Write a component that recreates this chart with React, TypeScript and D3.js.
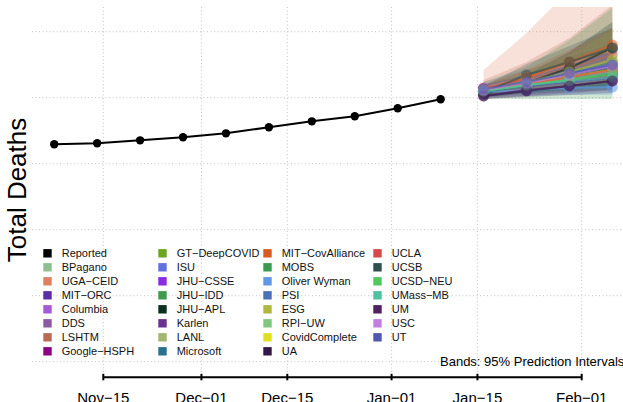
import React from 'react';
import * as d3 from 'd3';

const reportedDates = ['2020-11-07', '2020-11-14', '2020-11-21', '2020-11-28', '2020-12-05', '2020-12-12', '2020-12-19', '2020-12-26', '2021-01-02', '2021-01-09'];
const reportedValues = [16470, 16550, 16770, 17000, 17300, 17760, 18210, 18590, 19200, 19880];

const forecastDates = ['2021-01-16', '2021-01-23', '2021-01-30', '2021-02-06'];

const models = ['BPagano', 'UGA−CEID', 'MIT−ORC', 'Columbia', 'DDS', 'LSHTM', 'Google−HSPH',
  'GT−DeepCOVID', 'ISU', 'JHU−CSSE', 'JHU−IDD', 'JHU−APL', 'Karlen', 'LANL', 'Microsoft',
  'MIT−CovAlliance', 'MOBS', 'Oliver Wyman', 'PSI', 'ESG', 'RPI−UW', 'CovidComplete', 'UA',
  'UCLA', 'UCSB', 'UCSD−NEU', 'UMass−MB', 'UM', 'USC', 'UT'];

const modelColors = ['#8fbf8f', '#e08060', '#5a2ea0', '#a65ad8', '#8c5aa0', '#b86a55', '#8b0080',
  '#6aa51e', '#6070e0', '#8a2be2', '#3f9a50', '#0a3020', '#6a3090', '#a0b870', '#2a7090',
  '#d85a20', '#3a9a50', '#6098e8', '#4a70b8', '#b0b840', '#80c880', '#e0e020', '#301848',
  '#d84848', '#305050', '#50c860', '#50c0a0', '#502060', '#c080e0', '#5058b0'];

const medians = [
  [20580, 21040, 21490, 21950], [20740, 21570, 22550, 23610], [20660, 21190, 21720, 22250],
  [20740, 21340, 21950, 22550], [20580, 21040, 21490, 22020], [20660, 21340, 22250, 23240],
  [20510, 20890, 21270, 21640], [20580, 21110, 21640, 22180], [20660, 21190, 21870, 22480],
  [20580, 21040, 21490, 21950], [20580, 21190, 21950, 22710], [20280, 21110, 22250, 23770],
  [20580, 20960, 21420, 21870], [20510, 20890, 21340, 21720], [20510, 20960, 21420, 21870],
  [20660, 21490, 22710, 23990], [20430, 20890, 21340, 21800], [20430, 20580, 20740, 20810],
  [20510, 20890, 21190, 21490], [20580, 21190, 21950, 22860], [20510, 20960, 21420, 21950],
  [20580, 21040, 21570, 22100], [20130, 20510, 20890, 21270], [20580, 21040, 21570, 22100],
  [20430, 21720, 22710, 23770], [20510, 20960, 21340, 21800], [20510, 20960, 21270, 21570],
  [20130, 20580, 20890, 21270], [20580, 21110, 21720, 22400], [20660, 21190, 21870, 22480],
];

const lowers = [
  [20210, 20430, 20660, 20890], [20130, 20430, 20810, 21190], [20430, 20740, 21040, 21340],
  [20280, 20580, 20890, 21190], [20130, 20360, 20580, 20810], [20130, 20430, 20890, 21340],
  [20210, 20430, 20660, 20890], [20280, 20580, 20890, 21190], [20360, 20740, 21190, 21640],
  [20210, 20430, 20740, 21040], [19900, 19900, 19900, 19900], [19980, 20360, 20960, 21720],
  [20280, 20510, 20740, 20960], [20130, 20280, 20510, 20740], [20210, 20430, 20660, 20890],
  [20360, 20890, 21720, 22710], [20130, 20360, 20580, 20810], [20050, 20130, 20210, 20210],
  [20130, 20280, 20430, 20580], [20210, 20580, 20960, 21490], [20210, 20430, 20740, 21040],
  [20280, 20510, 20810, 21110], [19900, 20050, 20210, 20360], [20280, 20580, 20890, 21190],
  [19980, 20960, 21640, 22480], [20210, 20430, 20660, 20890], [20130, 20360, 20510, 20660],
  [19900, 20130, 20360, 20580], [20280, 20580, 20960, 21420], [20360, 20740, 21190, 21640],
];

const uppers = [
  [20890, 21570, 22250, 23010], [22100, 24900, 28160, 31950], [20890, 21570, 22330, 23160],
  [21190, 22100, 23080, 24070], [21040, 21800, 22550, 23310], [21340, 22710, 24520, 27020],
  [20810, 21340, 21870, 22400], [20890, 21640, 22400, 23160], [20960, 21640, 22550, 23460],
  [20960, 21640, 22330, 23010], [21190, 22330, 24370, 26800], [20580, 21800, 23460, 25740],
  [20890, 21420, 22020, 22710], [20890, 21490, 22180, 22860], [20810, 21420, 22100, 22780],
  [20960, 22100, 23610, 25280], [20740, 21340, 22020, 22710], [20740, 21040, 21340, 21570],
  [20890, 21490, 22100, 22710], [20960, 21950, 23240, 25130], [20810, 21490, 22180, 22860],
  [20890, 21570, 22330, 23080], [20360, 20890, 21420, 21950], [20890, 21490, 22180, 22860],
  [20890, 22550, 23920, 25280], [20810, 21420, 22020, 22630], [20890, 21490, 22020, 22550],
  [20430, 20960, 21420, 21870], [20890, 21640, 22550, 23460], [20960, 21720, 22630, 23610],
];

const xTickDates = ['2020-11-15', '2020-12-01', '2020-12-15', '2021-01-01', '2021-01-15', '2021-02-01'];
const yGridValues = [0, 5000, 10000, 15000, 20000, 25000];

const legendLabels = ['Reported', ...models];
const legendColors = ['#000000', ...modelColors];

const FONT = '"Liberation Sans", Arial, Helvetica, sans-serif';

export default function App() {
  const W = 623;
  const H = 402;
  const parse = d3.utcParse('%Y-%m-%d');
  const fmt = d3.utcFormat('%b-%d');
  const x = d3.scaleUtc()
    .domain([parse('2020-11-15') as Date, parse('2021-02-01') as Date])
    .range([103.3, 581.7]);
  const y = d3.scaleLinear().domain([0, 25000]).range([361.7, 31.7]);

  const plotLeft = 32;
  const plotTop = 7;
  const plotBottom = 372;
  const axisY = 377.3;

  const fDates = forecastDates.map((d) => parse(d) as Date);
  const rDates = reportedDates.map((d) => parse(d) as Date);

  const line = d3.line<[Date, number]>().x((d) => x(d[0])).y((d) => y(d[1]));

  const bandPaths = models.map((m, k) => {
    const gen = d3.area<number>()
      .x((i) => x(fDates[i]))
      .y0((i) => y(lowers[k][i]))
      .y1((i) => y(uppers[k][i]));
    return gen(fDates.map((_, i) => i)) as string;
  });

  const legendColX = [43.3, 158.3, 263.3, 373.3];
  const legendRowY0 = 253.3;
  const legendRowStep = 14;

  return (
    <svg width={W} height={H} style={{ position: 'absolute', left: 0, top: 0, background: '#fff' }}
      fontFamily={FONT}>
      <defs>
        <clipPath id="plotclip">
          <rect x={plotLeft} y={plotTop} width={W - plotLeft} height={plotBottom - plotTop} />
        </clipPath>
      </defs>
      <rect x={0} y={0} width={W} height={H} fill="#ffffff" />
      {yGridValues.map((v) => (
        <line key={'hg' + v} x1={plotLeft} x2={W} y1={y(v)} y2={y(v)} stroke="#c4c4c4"
          strokeWidth={1} strokeDasharray="1,2.5" />
      ))}
      {xTickDates.map((d) => (
        <line key={'vg' + d} x1={x(parse(d) as Date)} x2={x(parse(d) as Date)} y1={plotTop} y2={plotBottom}
          stroke="#c4c4c4" strokeWidth={1} strokeDasharray="1,2.5" />
      ))}
      <g clipPath="url(#plotclip)">
        {bandPaths.map((p, k) => (
          <path key={'b' + k} d={p} fill={modelColors[k]} fillOpacity={0.24} stroke="none" />
        ))}
        {models.map((m, k) => (
          <path key={'m' + k} d={line(fDates.map((d, i) => [d, medians[k][i]] as [Date, number])) as string}
            fill="none" stroke={modelColors[k]} strokeWidth={2} strokeOpacity={0.65} />
        ))}
        {models.map((m, k) => (
          <g key={'p' + k}>
            {fDates.map((d, i) => (
              <circle key={i} cx={x(d)} cy={y(medians[k][i])} r={5.5} fill={modelColors[k]} fillOpacity={0.55} />
            ))}
          </g>
        ))}
      </g>
      <path d={line(rDates.map((d, i) => [d, reportedValues[i]] as [Date, number])) as string}
        fill="none" stroke="#000" strokeWidth={2} />
      {rDates.map((d, i) => (
        <circle key={'r' + i} cx={x(d)} cy={y(reportedValues[i])} r={4.2} fill="#000" />
      ))}
      <line x1={x(parse(xTickDates[0]) as Date)} x2={x(parse(xTickDates[xTickDates.length - 1]) as Date)}
        y1={axisY} y2={axisY} stroke="#000" strokeWidth={2} />
      {xTickDates.map((d) => {
        const xx = x(parse(d) as Date);
        return (
          <g key={'t' + d}>
            <line x1={xx} x2={xx} y1={axisY - 3.5} y2={axisY + 3} stroke="#000" strokeWidth={2} />
            <text x={xx} y={403} textAnchor="middle" fontSize={15} fill="#000">
              {fmt(parse(d) as Date).replace('-', '−')}
            </text>
          </g>
        );
      })}
      <text transform="translate(25.5,190) rotate(-90)" textAnchor="middle" fontSize={26} fill="#000">
        Total Deaths
      </text>
      {legendLabels.map((lab, i) => {
        const col = Math.floor(i / 8);
        const row = i % 8;
        const lx = legendColX[col];
        const ly = legendRowY0 + row * legendRowStep;
        return (
          <g key={'l' + i}>
            <rect x={lx} y={ly - 4.2} width={8.4} height={8.4} fill={legendColors[i]} />
            <text x={lx + 18.4} y={ly + 4} fontSize={11} fill="#111">{lab}</text>
          </g>
        );
      })}
      <text x={440} y={365.5} fontSize={13} fill="#000">Bands: 95% Prediction Intervals</text>
    </svg>
  );
}
